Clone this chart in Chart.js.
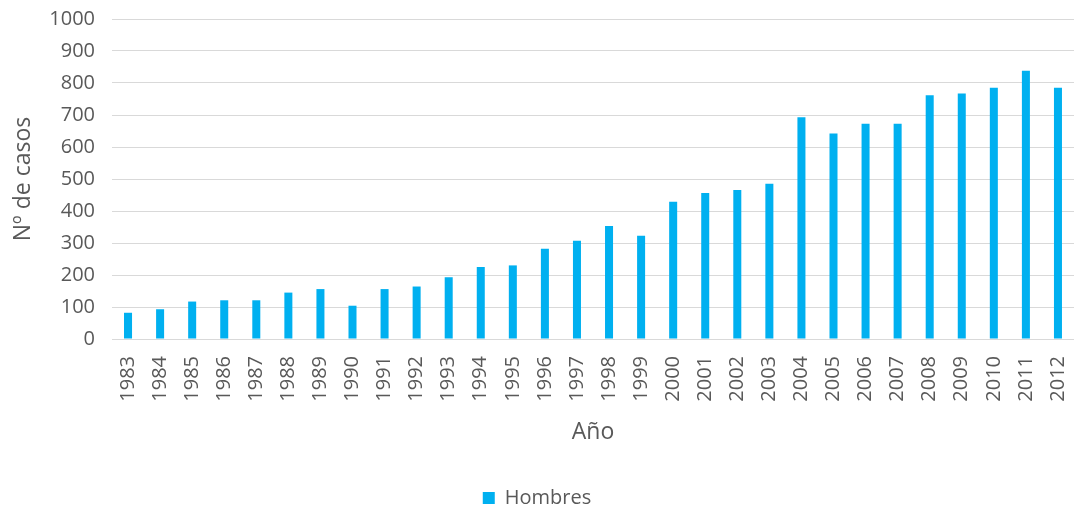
<!DOCTYPE html>
<html>
<head>
<meta charset="utf-8">
<script src="https://cdn.jsdelivr.net/npm/chart.js@4"></script>
<style>
    html, body { margin: 0; padding: 0; background: #fff; }
    #wrap { width: 1078px; height: 511px; }
</style>
</head>
<body>
<div id="wrap"><canvas id="chart"></canvas></div>
<script>
const years = ['1983', '1984', '1985', '1986', '1987', '1988', '1989', '1990', '1991', '1992',
    '1993', '1994', '1995', '1996', '1997', '1998', '1999', '2000', '2001', '2002',
    '2003', '2004', '2005', '2006', '2007', '2008', '2009', '2010', '2011', '2012'];
const hombres = [82, 93, 117, 121, 121, 145, 156, 104, 156, 164,
    193, 225, 230, 282, 307, 353, 323, 429, 456, 466,
    485, 693, 642, 673, 673, 762, 767, 785, 838, 785];
const yMin = 0;
const yMax = 1000;
const yStep = 100;

const textColor = '#595959';
const fontFamily = "'Open Sans', 'DejaVu Sans', sans-serif";

// keep the plot area where the reference has it
function noPadding(scale) {
    scale.paddingTop = 0;
    scale.paddingBottom = 0;
    scale.paddingLeft = 0;
    scale.paddingRight = 0;
}

const ctx = document.getElementById('chart').getContext('2d');
new Chart(ctx, {
    type: 'bar',
    data: {
        labels: years,
        datasets: [{
            label: 'Hombres',
            data: hombres,
            backgroundColor: '#00B0F0',
            borderWidth: 0,
            barPercentage: 0.25,
            categoryPercentage: 1.0,
        }]
    },
    options: {
        responsive: true,
        maintainAspectRatio: false,
        animation: false,
        layout: {
            padding: { top: 19, right: 4, bottom: -7, left: 0 }
        },
        plugins: {
            legend: {
                position: 'bottom',
                labels: {
                    color: textColor,
                    font: { family: fontFamily, size: 20 },
                    boxWidth: 12,
                    boxHeight: 12,
                    padding: 0,
                }
            },
            tooltip: { enabled: false }
        },
        scales: {
            x: {
                grid: { display: false },
                border: { display: false },
                ticks: {
                    color: textColor,
                    font: { family: fontFamily, size: 20 },
                    minRotation: 90,
                    maxRotation: 90,
                    padding: 9,
                    autoSkip: false,
                },
                title: {
                    display: true,
                    text: 'Año',
                    color: textColor,
                    font: { family: fontFamily, size: 23 },
                    padding: { top: 0, bottom: 42 }
                },
                afterFit: (scale) => {
                    scale.height = 149;
                    noPadding(scale);
                }
            },
            y: {
                min: yMin,
                max: yMax,
                border: { display: false },
                grid: {
                    color: '#d9d9d9',
                    lineWidth: 1,
                    drawTicks: false,
                },
                ticks: {
                    stepSize: yStep,
                    color: textColor,
                    font: { family: fontFamily, size: 20 },
                    padding: 17,
                    callback: (v) => String(v),
                },
                title: {
                    display: true,
                    text: 'Nº de casos',
                    color: textColor,
                    font: { family: fontFamily, size: 23 },
                    padding: { top: 10, bottom: 0 }
                },
                afterFit: (scale) => {
                    scale.width = 112;
                    noPadding(scale);
                }
            }
        }
    }
});
</script>
</body>
</html>
